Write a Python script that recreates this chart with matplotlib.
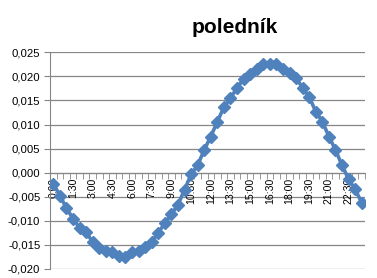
import matplotlib
matplotlib.use("Agg")
import matplotlib.pyplot as plt
from matplotlib.ticker import FixedLocator, FuncFormatter

# Data
times = [f"{h}:{m:02d}" for h in range(24) for m in (0, 30)]
values = [-0.0023, -0.0048, -0.0074, -0.0096, -0.0115, -0.0124, -0.0145, -0.0157,
          -0.0163, -0.0165, -0.0174, -0.0175, -0.0166, -0.0163, -0.0156, -0.0145,
          -0.0125, -0.0106, -0.0087, -0.0067, -0.0036, -0.0004, 0.0015, 0.0047,
          0.0075, 0.0106, 0.0136, 0.0155, 0.0176, 0.0195, 0.0205, 0.0215,
          0.0227, 0.0226, 0.0227, 0.0216, 0.0207, 0.0196, 0.0177, 0.0157,
          0.0127, 0.0106, 0.0075, 0.0047, 0.0015, -0.0014, -0.0035, -0.0063]
title = "poledník"
y_ticks = [-0.020, -0.015, -0.010, -0.005, 0.000, 0.005, 0.010, 0.015, 0.020, 0.025]

plt.rcParams['font.family'] = ['Liberation Sans', 'DejaVu Sans']

W, H = 377, 278
fig = plt.figure(figsize=(W / 100, H / 100), dpi=100)
ax = fig.add_axes([50 / W, 1 - 268.5 / H, 315 / W, 216 / H])

x = list(range(len(values)))
grid_col = "#868686"
ax.set_ylim(-0.020, 0.025)
ax.set_xlim(-0.5, len(values) - 0.5)
for yt in y_ticks:
    ax.axhline(yt, color=grid_col, lw=0.9, zorder=1)

ax.plot(x, values, color="#4F81BD", lw=2.6, marker="D", markersize=6,
        markerfacecolor="#4F81BD", markeredgecolor="#4F81BD", zorder=3)

for s in ["top", "right"]:
    ax.spines[s].set_visible(False)
ax.spines["left"].set_color(grid_col)
ax.spines["bottom"].set_color(grid_col)
ax.spines["bottom"].set_position(("data", 0))
ax.spines["bottom"].set_zorder(2)

ax.yaxis.set_major_locator(FixedLocator(y_ticks))
ax.yaxis.set_major_formatter(FuncFormatter(lambda v, p: f"{v:.3f}".replace(".", ",").replace("-0,000", "0,000")))
ax.tick_params(axis="y", length=4, color=grid_col, labelsize=8.2, pad=3, labelcolor="black")

lab_pos = x[::3]
ax.xaxis.set_major_locator(FixedLocator(lab_pos))
ax.set_xticklabels(times[::3], rotation=90, fontsize=7.6)
ax.xaxis.set_minor_locator(FixedLocator([i - 0.5 for i in range(len(values) + 1)]))
ax.tick_params(axis="x", which="major", length=0, pad=4)
ax.tick_params(axis="x", which="minor", length=4, color=grid_col, direction="out")
for t in ax.get_xticklabels():
    t.set_verticalalignment("top")

fig.text(235 / W, 1 - 27 / H, title, ha="center", va="center", fontsize=15, fontweight="bold")

fig.savefig("out.png", dpi=100)
